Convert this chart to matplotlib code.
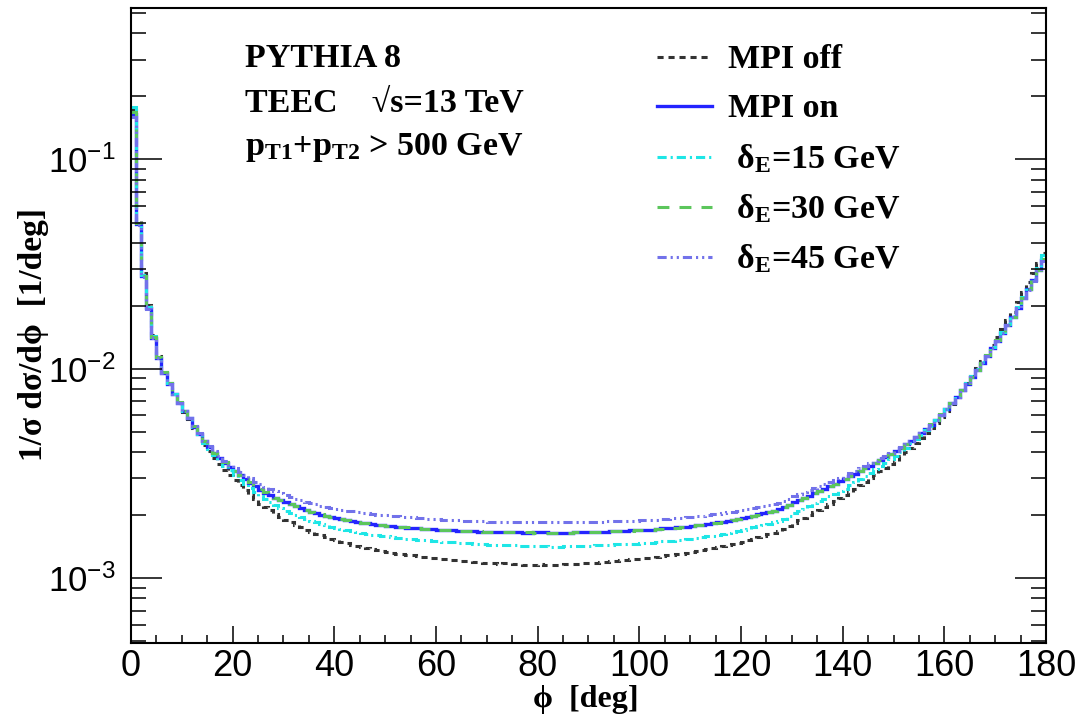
import numpy as np
import matplotlib
matplotlib.use("Agg")
import matplotlib.pyplot as plt
from matplotlib.ticker import MultipleLocator, LogLocator, NullFormatter

# TEEC distributions, 1 deg bins from 0 to 180 deg, values in units of 1e-3 / deg
phi_edges = np.arange(0, 181, 1)

mpi_off = [
    172, 51, 28.8, 20.2, 14.5, 11.5, 9.7, 8.55, 7.6, 6.85,
    6.25, 5.74, 5.22, 4.78, 4.34, 4.03, 3.75, 3.51, 3.29, 3.11,
    2.94, 2.78, 2.64, 2.50, 2.38, 2.27, 2.18, 2.11, 2.027, 1.965,
    1.903, 1.851, 1.799, 1.751, 1.705, 1.665, 1.633, 1.602, 1.570, 1.542,
    1.516, 1.494, 1.470, 1.447, 1.429, 1.411, 1.393, 1.374, 1.361, 1.346,
    1.333, 1.322, 1.311, 1.300, 1.293, 1.286, 1.275, 1.268, 1.261, 1.250,
    1.243, 1.236, 1.229, 1.222, 1.215, 1.208, 1.205, 1.198, 1.191, 1.187,
    1.181, 1.180, 1.174, 1.176, 1.178, 1.173, 1.164, 1.159, 1.157, 1.159,
    1.163, 1.161, 1.156, 1.154, 1.159, 1.164, 1.166, 1.171, 1.173, 1.178,
    1.180, 1.187, 1.194, 1.197, 1.204, 1.211, 1.215, 1.222, 1.229, 1.232,
    1.239, 1.246, 1.253, 1.264, 1.278, 1.286, 1.293, 1.304, 1.311, 1.322,
    1.333, 1.348, 1.359, 1.374, 1.389, 1.404, 1.419, 1.438, 1.457, 1.476,
    1.496, 1.519, 1.542, 1.566, 1.589, 1.618, 1.647, 1.681, 1.723, 1.777,
    1.832, 1.887, 1.942, 1.998, 2.062, 2.121, 2.191, 2.262, 2.334, 2.414,
    2.489, 2.583, 2.678, 2.782, 2.888, 2.996, 3.117, 3.239, 3.362, 3.496,
    3.643, 3.821, 4.011, 4.204, 4.418, 4.654, 4.912, 5.203, 5.537, 5.905,
    6.291, 6.775, 7.313, 7.908, 8.560, 9.269, 10.04, 10.92, 11.91, 13.01,
    14.24, 15.58, 17.09, 18.78, 20.91, 23.28, 25.85, 28.75, 32.12, 35.94,
]

mpi_on = [
    165, 49, 27.7, 19.5, 14.1, 11.3, 9.6, 8.5, 7.6, 6.9,
    6.3, 5.8, 5.3, 4.9, 4.5, 4.22, 3.97, 3.75, 3.56, 3.40,
    3.25, 3.11, 2.98, 2.86, 2.75, 2.65, 2.56, 2.49, 2.42, 2.36,
    2.30, 2.25, 2.20, 2.155, 2.11, 2.07, 2.04, 2.01, 1.98, 1.955,
    1.93, 1.91, 1.89, 1.87, 1.855, 1.84, 1.825, 1.81, 1.80, 1.79,
    1.78, 1.77, 1.76, 1.75, 1.745, 1.74, 1.73, 1.725, 1.72, 1.71,
    1.705, 1.70, 1.695, 1.69, 1.685, 1.68, 1.68, 1.675, 1.67, 1.67,
    1.665, 1.665, 1.66, 1.665, 1.67, 1.665, 1.655, 1.65, 1.65, 1.655,
    1.66, 1.655, 1.645, 1.64, 1.645, 1.65, 1.65, 1.655, 1.655, 1.66,
    1.66, 1.665, 1.67, 1.67, 1.675, 1.68, 1.68, 1.685, 1.69, 1.69,
    1.695, 1.70, 1.705, 1.715, 1.73, 1.735, 1.74, 1.75, 1.755, 1.765,
    1.775, 1.79, 1.80, 1.815, 1.83, 1.845, 1.86, 1.88, 1.90, 1.92,
    1.94, 1.965, 1.99, 2.015, 2.04, 2.07, 2.10, 2.135, 2.18, 2.24,
    2.30, 2.36, 2.42, 2.48, 2.55, 2.61, 2.68, 2.75, 2.82, 2.90,
    2.97, 3.06, 3.15, 3.25, 3.35, 3.45, 3.56, 3.67, 3.78, 3.90,
    4.03, 4.19, 4.36, 4.53, 4.72, 4.93, 5.16, 5.42, 5.72, 6.05,
    6.40, 6.85, 7.35, 7.90, 8.50, 9.15, 9.85, 10.65, 11.55, 12.55,
    13.65, 14.85, 16.20, 17.70, 19.6, 21.7, 24.0, 26.6, 29.6, 33.0,
]

delta15 = [
    178, 50, 28, 19.7, 14.3, 11.4, 9.65, 8.55, 7.62, 6.92,
    6.3, 5.8, 5.29, 4.86, 4.44, 4.15, 3.88, 3.65, 3.44, 3.27,
    3.11, 2.96, 2.82, 2.70, 2.58, 2.47, 2.376, 2.302, 2.228, 2.164,
    2.103, 2.054, 2.005, 1.961, 1.917, 1.877, 1.847, 1.817, 1.787, 1.761,
    1.736, 1.716, 1.696, 1.676, 1.661, 1.646, 1.631, 1.615, 1.605, 1.594,
    1.583, 1.573, 1.562, 1.551, 1.545, 1.539, 1.528, 1.522, 1.516, 1.506,
    1.500, 1.493, 1.487, 1.481, 1.475, 1.469, 1.467, 1.461, 1.455, 1.454,
    1.448, 1.446, 1.440, 1.443, 1.445, 1.439, 1.429, 1.423, 1.421, 1.424,
    1.428, 1.423, 1.415, 1.410, 1.415, 1.419, 1.419, 1.423, 1.423, 1.428,
    1.428, 1.433, 1.438, 1.439, 1.444, 1.449, 1.450, 1.455, 1.461, 1.461,
    1.467, 1.472, 1.477, 1.486, 1.500, 1.506, 1.511, 1.520, 1.526, 1.535,
    1.545, 1.559, 1.568, 1.582, 1.596, 1.610, 1.624, 1.643, 1.661, 1.680,
    1.698, 1.722, 1.746, 1.770, 1.794, 1.823, 1.851, 1.884, 1.926, 1.981,
    2.037, 2.094, 2.151, 2.208, 2.274, 2.331, 2.398, 2.465, 2.532, 2.608,
    2.679, 2.772, 2.867, 2.971, 3.075, 3.184, 3.307, 3.431, 3.557, 3.693,
    3.841, 4.018, 4.207, 4.399, 4.611, 4.836, 5.083, 5.360, 5.680, 6.032,
    6.406, 6.871, 7.387, 7.955, 8.577, 9.242, 9.949, 10.76, 11.67, 12.68,
    13.79, 15.00, 16.36, 17.88, 19.80, 21.92, 24.24, 26.87, 30.2, 34.8,
]

delta30 = [
    168, 49.5, 27.9, 19.6, 14.2, 11.35, 9.62, 8.52, 7.62, 6.92,
    6.31, 5.81, 5.31, 4.91, 4.51, 4.23, 3.98, 3.76, 3.57, 3.41,
    3.26, 3.12, 2.99, 2.87, 2.76, 2.66, 2.57, 2.495, 2.425, 2.365,
    2.305, 2.255, 2.205, 2.16, 2.115, 2.075, 2.045, 2.015, 1.985, 1.96,
    1.935, 1.913, 1.893, 1.873, 1.857, 1.842, 1.827, 1.813, 1.802, 1.792,
    1.782, 1.772, 1.762, 1.752, 1.746, 1.74, 1.732, 1.726, 1.72, 1.712,
    1.706, 1.70, 1.696, 1.691, 1.686, 1.682, 1.679, 1.675, 1.671, 1.668,
    1.666, 1.664, 1.662, 1.661, 1.66, 1.658, 1.656, 1.654, 1.653, 1.652,
    1.652, 1.651, 1.65, 1.65, 1.65, 1.651, 1.652, 1.653, 1.655, 1.657,
    1.659, 1.662, 1.665, 1.668, 1.672, 1.676, 1.68, 1.684, 1.688, 1.692,
    1.697, 1.702, 1.707, 1.713, 1.72, 1.727, 1.735, 1.744, 1.753, 1.763,
    1.774, 1.786, 1.798, 1.812, 1.826, 1.842, 1.858, 1.876, 1.895, 1.915,
    1.937, 1.96, 1.985, 2.011, 2.039, 2.068, 2.099, 2.133, 2.178, 2.236,
    2.296, 2.356, 2.418, 2.479, 2.545, 2.608, 2.677, 2.748, 2.82, 2.897,
    2.972, 3.06, 3.152, 3.25, 3.35, 3.452, 3.562, 3.672, 3.785, 3.905,
    4.035, 4.195, 4.365, 4.535, 4.725, 4.935, 5.165, 5.425, 5.725, 6.055,
    6.41, 6.86, 7.36, 7.91, 8.51, 9.17, 9.87, 10.67, 11.58, 12.58,
    13.7, 14.9, 16.25, 17.75, 19.7, 21.8, 24.1, 26.7, 29.8, 33.5,
]

delta45 = [
    160, 48.5, 27.5, 19.4, 14.1, 11.3, 9.6, 8.5, 7.6, 6.9,
    6.3, 5.8, 5.31, 4.92, 4.53, 4.26, 4.03, 3.82, 3.64, 3.49,
    3.356, 3.227, 3.107, 2.996, 2.894, 2.802, 2.720, 2.658, 2.595, 2.543,
    2.489, 2.444, 2.398, 2.358, 2.317, 2.279, 2.250, 2.221, 2.192, 2.168,
    2.143, 2.123, 2.103, 2.082, 2.067, 2.053, 2.038, 2.023, 2.013, 2.004,
    1.994, 1.982, 1.971, 1.960, 1.954, 1.949, 1.938, 1.932, 1.926, 1.915,
    1.910, 1.904, 1.898, 1.893, 1.887, 1.882, 1.880, 1.876, 1.870, 1.867,
    1.862, 1.860, 1.858, 1.858, 1.856, 1.855, 1.853, 1.852, 1.852, 1.851,
    1.851, 1.850, 1.849, 1.849, 1.850, 1.851, 1.852, 1.853, 1.855, 1.856,
    1.858, 1.860, 1.863, 1.865, 1.868, 1.871, 1.874, 1.877, 1.881, 1.884,
    1.888, 1.893, 1.898, 1.905, 1.913, 1.921, 1.929, 1.938, 1.947, 1.957,
    1.967, 1.979, 1.991, 2.004, 2.018, 2.032, 2.047, 2.063, 2.080, 2.098,
    2.117, 2.137, 2.158, 2.180, 2.203, 2.227, 2.252, 2.295, 2.345, 2.400,
    2.458, 2.515, 2.571, 2.628, 2.694, 2.750, 2.815, 2.881, 2.945, 3.020,
    3.084, 3.169, 3.252, 3.346, 3.439, 3.531, 3.633, 3.734, 3.835, 3.945,
    4.066, 4.219, 4.382, 4.544, 4.725, 4.93, 5.16, 5.42, 5.72, 6.05,
    6.40, 6.85, 7.35, 7.90, 8.50, 9.15, 9.85, 10.65, 11.55, 12.55,
    13.65, 14.85, 16.20, 17.70, 19.6, 21.7, 23.8, 26.4, 29.3, 32.6,
]

labels = ["MPI off", "MPI on",
          " δ$_{\\rm E}$=15 GeV", " δ$_{\\rm E}$=30 GeV", " δ$_{\\rm E}$=45 GeV"]

plt.rcParams["font.family"] = ["Liberation Sans", "DejaVu Sans"]
plt.rcParams["mathtext.fontset"] = "custom"
plt.rcParams["mathtext.rm"] = "Liberation Serif:bold"
plt.rcParams["mathtext.bf"] = "Liberation Serif:bold"
plt.rcParams["mathtext.it"] = "Liberation Serif:bold:italic"

serif = dict(family=["Liberation Serif", "DejaVu Serif"], weight="bold")

styles = [
    dict(color="#333333", lw=2.2, ls=(0, (2.0, 1.6))),
    dict(color="#2424ff", lw=2.4, ls="-"),
    dict(color="#1ee6e6", lw=2.2, ls=(0, (3.0, 1.3, 0.7, 1.3))),
    dict(color="#5cc65c", lw=2.2, ls=(0, (3.9, 3.3))),
    dict(color="#7272ea", lw=2.2, ls=(0, (3.0, 1.3, 0.7, 1.3, 0.7, 1.3))),
]
series = [mpi_off, mpi_on, delta15, delta30, delta45]

fig = plt.figure(figsize=(10.91, 7.17), dpi=100)
ax = fig.add_axes([0.120, 0.1032, 0.8388, 0.8858])

for vals, st in zip(series, styles):
    ax.stairs(np.array(vals) * 1e-3, phi_edges, baseline=None,
              edgecolor=st["color"], linewidth=st["lw"], linestyle=st["ls"],
              capstyle="butt")

ax.set_yscale("log")
ax.set_xlim(0, 180)
ax.set_ylim(4.9e-4, 0.53)

ax.xaxis.set_major_locator(MultipleLocator(20))
ax.xaxis.set_minor_locator(MultipleLocator(5))
ax.yaxis.set_major_locator(LogLocator(base=10, numticks=10))
ax.yaxis.set_minor_locator(LogLocator(base=10, subs=np.arange(2, 10), numticks=20))
ax.yaxis.set_minor_formatter(NullFormatter())

ax.tick_params(axis="x", which="both", direction="in", top=False, bottom=True,
               labelsize=26, pad=4)
ax.tick_params(axis="x", which="major", length=12, width=1.1)
ax.tick_params(axis="x", which="minor", length=6, width=1.1)
ax.tick_params(axis="y", which="both", direction="in", left=True, right=True,
               labelsize=25, pad=11)
ax.tick_params(axis="y", which="major", length=22, width=1.1)
ax.tick_params(axis="y", which="minor", length=11, width=1.1)
for sp in ax.spines.values():
    sp.set_linewidth(1.5)

phi_family = ["Liberation Serif", "DejaVu Serif"]
ax.set_xlabel("ϕ  [deg]", fontsize=23, family=phi_family, weight="bold")
ax.set_ylabel("1/σ dσ/dϕ  [1/deg]", fontsize=24, family=phi_family, weight="bold")
ax.xaxis.set_label_coords(0.497, -0.066)
ax.yaxis.set_label_coords(-0.09, 0.485)

# info text block, upper left
tx = (245 - 131) / 915
ax.text(tx, (643 - 67) / 635, "PYTHIA 8", transform=ax.transAxes,
        fontsize=24.5, va="baseline", **serif)
ax.text(tx, (643 - 112) / 635, "TEEC    √s=13 TeV", transform=ax.transAxes,
        fontsize=24.5, va="baseline", **serif)
ax.text(tx, (643 - 155) / 635, "p$_{\\rm T1}$+p$_{\\rm T2}$ > 500 GeV",
        transform=ax.transAxes, fontsize=24.5, va="baseline", **serif)

# legend, drawn entry by entry for even row spacing
lx0, lx1 = (657 - 131) / 915, (712 - 131) / 915
row_y = [57, 106, 157, 207, 257]
for st, lab, ry in zip(styles, labels, row_y):
    yl = (643 - ry) / 635
    ax.plot([lx0, lx1], [yl, yl], transform=ax.transAxes, color=st["color"],
            lw=st["lw"], ls=st["ls"], dash_capstyle="butt", clip_on=False)
    ax.text((728 - 131) / 915, (643 - ry - 11) / 635, lab, transform=ax.transAxes,
            fontsize=24.5, va="baseline", **serif)

fig.savefig("out.png", dpi=100)
